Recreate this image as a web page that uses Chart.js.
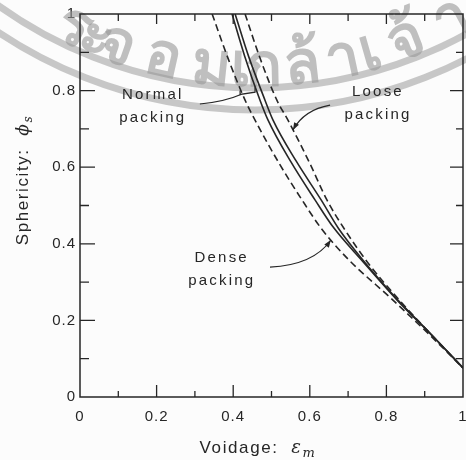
<!DOCTYPE html>
<html>
<head>
<meta charset="utf-8">
<script src="https://cdn.jsdelivr.net/npm/chart.js@4.4.1/dist/chart.umd.min.js"></script>
<style>
  html, body { margin: 0; padding: 0; background: #fff; }
  canvas { display: block; }
</style>
</head>
<body>
<canvas id="packingChart" width="466" height="460"></canvas>
<script>
// Sphericity vs voidage for randomly packed particles

// Dense packing (dashed, left)
const denseVoidage    = [0.345, 0.39, 0.431, 0.457, 0.52, 0.58, 0.63, 0.70, 0.815, 0.91, 1.0];
const denseSphericity = [1.0, 0.875, 0.775, 0.723, 0.61, 0.514, 0.44, 0.36, 0.255, 0.165, 0.076];

// Normal packing band (two solid lines)
const normalLowVoidage     = [0.397, 0.43, 0.47, 0.491, 0.55, 0.614, 0.66, 0.74, 0.828, 0.92, 1.0];
const normalLowSphericity  = [1.0, 0.89, 0.775, 0.723, 0.615, 0.514, 0.445, 0.352, 0.253, 0.16, 0.076];
const normalHighVoidage    = [0.405, 0.44, 0.483, 0.504, 0.565, 0.63, 0.675, 0.745, 0.83, 0.92, 1.0];
const normalHighSphericity = [1.0, 0.89, 0.775, 0.723, 0.615, 0.514, 0.44, 0.35, 0.253, 0.16, 0.076];

// Loose packing (dashed, right)
const looseVoidage    = [0.431, 0.47, 0.514, 0.543, 0.60, 0.645, 0.692, 0.752, 0.832, 0.92, 1.0];
const looseSphericity = [1.0, 0.885, 0.775, 0.723, 0.61, 0.514, 0.436, 0.35, 0.255, 0.16, 0.076];

// Tick labels
const xTickLabels = ['0', '0.2', '0.4', '0.6', '0.8', '1'];
const yTickLabels = ['0', '0.2', '0.4', '0.6', '0.8', '1'];

// Label text and where it sits (data units)
const labelTexts = [['Normal', 'packing'], ['Loose', 'packing'], ['Dense', 'packing']];
const labelX = [0.19, 0.778, 0.37];
const labelY = [0.79, 0.797, 0.362];

const INK = '#262626';

function toPoints(xs, ys) {
    return xs.map((x, i) => ({ x: x, y: ys[i] }));
}

function tickLabel(value, labels) {
    const txt = String(Math.round(value * 10) / 10);
    return labels.includes(txt) ? txt : '';
}

const figurePlugin = {
    id: 'figure',
    beforeDraw(chart) {
        const ctx = chart.ctx;
        ctx.fillStyle = '#fcfcfc';
        ctx.fillRect(0, 0, chart.width, chart.height);
        ctx.letterSpacing = '1px';
    },
    beforeDatasetsDraw(chart) {
        // faint watermark rings and text
        const ctx = chart.ctx;
        ctx.save();
        ctx.strokeStyle = 'rgba(155,155,155,0.55)';
        ctx.lineWidth = 7;
        [440, 462].forEach(r => {
            ctx.beginPath();
            ctx.arc(255, -352, r, 0, Math.PI);
            ctx.stroke();
        });
        const glyphs = ['ร', 'ะ', 'จ', 'อ', 'ม', 'เ', 'ก', 'ล้', 'า', 'เ', 'จ้', 'า'];
        const gx = [74, 96, 117, 163, 212, 241, 264, 302, 343, 370, 406, 452];
        ctx.fillStyle = 'rgba(150,150,150,0.6)';
        ctx.font = 'bold 60px "Noto Sans", "DejaVu Sans", sans-serif';
        ctx.letterSpacing = '0px';
        ctx.textAlign = 'center';
        ctx.textBaseline = 'middle';
        const R = 416;
        glyphs.forEach((g, i) => {
            const dx = gx[i] - 255;
            const h = Math.sqrt(R * R - dx * dx);
            ctx.save();
            ctx.translate(gx[i], -347 + h);
            ctx.rotate(-Math.atan2(dx, h));
            ctx.fillText(g, 0, 0);
            ctx.restore();
        });
        ctx.restore();
    },
    afterDraw(chart) {
        const ctx = chart.ctx;
        const xs = chart.scales.x, ys = chart.scales.y;
        const a = chart.chartArea;
        ctx.save();
        ctx.strokeStyle = INK;
        ctx.lineWidth = 1.5;
        ctx.strokeRect(a.left, a.top, a.right - a.left, a.bottom - a.top);

        // inward tick marks on all four sides
        ctx.lineWidth = 1.3;
        for (let k = 1; k < 10; k++) {
            const major = k % 2 === 0;
            const px = xs.getPixelForValue(k / 10);
            const py = ys.getPixelForValue(k / 10);
            ctx.beginPath();
            ctx.moveTo(px, a.bottom); ctx.lineTo(px, a.bottom - (major ? 12 : 6));
            ctx.moveTo(px, a.top); ctx.lineTo(px, a.top + (major ? 10 : 7));
            ctx.moveTo(a.left, py); ctx.lineTo(a.left + (major ? 15 : 9), py);
            ctx.moveTo(a.right, py); ctx.lineTo(a.right - (major ? 13 : 7), py);
            ctx.stroke();
        }

        // annotation text
        ctx.fillStyle = INK;
        ctx.font = '15px "Liberation Sans", Arial, sans-serif';
        ctx.letterSpacing = '2.2px';
        ctx.textAlign = 'center';
        ctx.textBaseline = 'middle';
        labelTexts.forEach((lines, i) => {
            const cx = xs.getPixelForValue(labelX[i]);
            const cy = ys.getPixelForValue(labelY[i]);
            lines.forEach((t, j) => ctx.fillText(t, cx, cy + j * 23));
        });

        // leaders: Normal (bracket), Loose (arrow), Dense (arrow)
        const P = (x, y) => [xs.getPixelForValue(x), ys.getPixelForValue(y)];
        ctx.lineWidth = 1.2;
        function leader(s, c, e, arrow) {
            ctx.beginPath();
            ctx.moveTo(s[0], s[1]);
            ctx.quadraticCurveTo(c[0], c[1], e[0], e[1]);
            ctx.stroke();
            if (arrow) {
                const ang = Math.atan2(e[1] - c[1], e[0] - c[0]);
                ctx.beginPath();
                ctx.moveTo(e[0], e[1]);
                ctx.lineTo(e[0] - 8 * Math.cos(ang - 0.35), e[1] - 8 * Math.sin(ang - 0.35));
                ctx.lineTo(e[0] - 8 * Math.cos(ang + 0.35), e[1] - 8 * Math.sin(ang + 0.35));
                ctx.closePath();
                ctx.fill();
            }
        }
        leader(P(0.313, 0.765), P(0.38, 0.772), P(0.42, 0.79), false);
        const b1 = P(0.418, 0.79), b2 = P(0.457, 0.796);
        ctx.beginPath();
        ctx.moveTo(b1[0], b1[1] - 4); ctx.lineTo(b1[0], b1[1]);
        ctx.lineTo(b2[0], b2[1]); ctx.lineTo(b2[0], b2[1] - 5);
        ctx.stroke();
        leader(P(0.653, 0.762), P(0.585, 0.75), P(0.556, 0.697), true);
        leader(P(0.496, 0.339), P(0.61, 0.345), P(0.655, 0.41), true);

        // axis titles
        ctx.letterSpacing = '1.6px';
        ctx.textAlign = 'left';
        ctx.textBaseline = 'alphabetic';
        function titleParts(parts) {
            let w = 0;
            parts.forEach(p => { ctx.font = p.font; p.w = ctx.measureText(p.t).width; w += p.w; });
            return w;
        }
        const xParts = [
            { t: 'Voidage:  ', font: '17px "Liberation Sans", Arial, sans-serif', dy: 0 },
            { t: 'ε', font: 'italic 18px "DejaVu Serif", serif', dy: 0 },
            { t: 'm', font: 'italic 13px "DejaVu Serif", serif', dy: 4 }
        ];
        let w = titleParts(xParts);
        let x0 = 258 - w / 2;
        xParts.forEach(p => { ctx.font = p.font; ctx.fillText(p.t, x0, 453 + p.dy); x0 += p.w; });

        const yParts = [
            { t: 'Sphericity:  ', font: '17px "Liberation Sans", Arial, sans-serif', dy: 0 },
            { t: 'ϕ', font: 'italic 17px "DejaVu Serif", serif', dy: 0 },
            { t: 's', font: 'italic 12px "DejaVu Serif", serif', dy: 4 }
        ];
        w = titleParts(yParts);
        ctx.translate(28, 180);
        ctx.rotate(-Math.PI / 2);
        x0 = -w / 2;
        yParts.forEach(p => { ctx.font = p.font; ctx.fillText(p.t, x0, p.dy); x0 += p.w; });
        ctx.restore();
    }
};

function lineSet(label, xs, ys, dashed) {
    return {
        label: label,
        data: toPoints(xs, ys),
        showLine: true,
        borderColor: INK,
        borderWidth: 1.6,
        borderDash: dashed ? [7, 4] : [],
        pointRadius: 0,
        cubicInterpolationMode: 'monotone',
        fill: false
    };
}

new Chart(document.getElementById('packingChart'), {
    type: 'scatter',
    data: {
        datasets: [
            lineSet('Dense packing', denseVoidage, denseSphericity, true),
            lineSet('Normal packing (lower)', normalLowVoidage, normalLowSphericity, false),
            lineSet('Normal packing (upper)', normalHighVoidage, normalHighSphericity, false),
            lineSet('Loose packing', looseVoidage, looseSphericity, true)
        ]
    },
    options: {
        responsive: false,
        animation: false,
        layout: { padding: { top: 14, right: 3, left: 0, bottom: 0 } },
        plugins: {
            legend: { display: false },
            tooltip: { enabled: false }
        },
        scales: {
            x: {
                type: 'linear',
                min: 0,
                max: 1,
                grid: { display: false, drawTicks: false },
                border: { display: false },
                afterFit: scale => {
                    scale.height = 63;
                    scale.paddingLeft = 0;
                    scale.paddingRight = 0;
                },
                ticks: {
                    stepSize: 0.1,
                    autoSkip: false,
                    maxRotation: 0,
                    padding: 11,
                    color: INK,
                    font: { family: '"Liberation Sans", Arial, sans-serif', size: 15 },
                    callback: v => tickLabel(v, xTickLabels)
                }
            },
            y: {
                type: 'linear',
                min: 0,
                max: 1,
                grid: { display: false, drawTicks: false },
                border: { display: false },
                afterFit: scale => {
                    scale.width = 80;
                    scale.paddingTop = 0;
                    scale.paddingBottom = 0;
                },
                ticks: {
                    stepSize: 0.1,
                    autoSkip: false,
                    padding: 4,
                    color: INK,
                    font: { family: '"Liberation Sans", Arial, sans-serif', size: 15 },
                    callback: v => tickLabel(v, yTickLabels)
                }
            }
        }
    },
    plugins: [figurePlugin]
});
</script>
</body>
</html>
